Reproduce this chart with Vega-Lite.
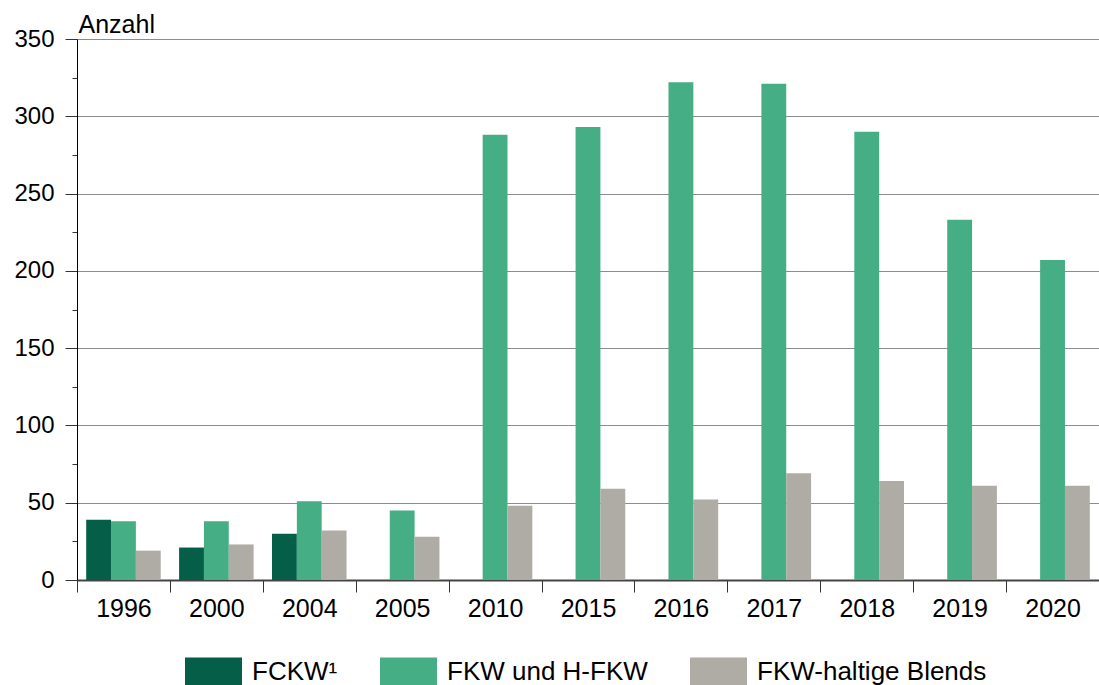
{
  "$schema": "https://vega.github.io/schema/vega-lite/v6.json",
  "width": 1022,
  "height": 541,
  "autosize": {"type": "none"},
  "padding": {"left": 77, "top": 39, "right": 0, "bottom": 105},
  "background": "white",
  "config": {
    "view": {"stroke": null},
    "font": "Liberation Sans",
    "axis": {"labelFont": "Liberation Sans", "titleFont": "Liberation Sans", "labelColor": "black", "titleColor": "black"},
    "legend": {"labelFont": "Liberation Sans"}
  },
  "data": {
    "values": [
      {"Jahr": "1996", "Stoff": "FCKW¹", "Anzahl": 39},
      {"Jahr": "1996", "Stoff": "FKW und H-FKW", "Anzahl": 38},
      {"Jahr": "1996", "Stoff": "FKW-haltige Blends", "Anzahl": 19},
      {"Jahr": "2000", "Stoff": "FCKW¹", "Anzahl": 21},
      {"Jahr": "2000", "Stoff": "FKW und H-FKW", "Anzahl": 38},
      {"Jahr": "2000", "Stoff": "FKW-haltige Blends", "Anzahl": 23},
      {"Jahr": "2004", "Stoff": "FCKW¹", "Anzahl": 30},
      {"Jahr": "2004", "Stoff": "FKW und H-FKW", "Anzahl": 51},
      {"Jahr": "2004", "Stoff": "FKW-haltige Blends", "Anzahl": 32},
      {"Jahr": "2005", "Stoff": "FKW und H-FKW", "Anzahl": 45},
      {"Jahr": "2005", "Stoff": "FKW-haltige Blends", "Anzahl": 28},
      {"Jahr": "2010", "Stoff": "FKW und H-FKW", "Anzahl": 288},
      {"Jahr": "2010", "Stoff": "FKW-haltige Blends", "Anzahl": 48},
      {"Jahr": "2015", "Stoff": "FKW und H-FKW", "Anzahl": 293},
      {"Jahr": "2015", "Stoff": "FKW-haltige Blends", "Anzahl": 59},
      {"Jahr": "2016", "Stoff": "FKW und H-FKW", "Anzahl": 322},
      {"Jahr": "2016", "Stoff": "FKW-haltige Blends", "Anzahl": 52},
      {"Jahr": "2017", "Stoff": "FKW und H-FKW", "Anzahl": 321},
      {"Jahr": "2017", "Stoff": "FKW-haltige Blends", "Anzahl": 69},
      {"Jahr": "2018", "Stoff": "FKW und H-FKW", "Anzahl": 290},
      {"Jahr": "2018", "Stoff": "FKW-haltige Blends", "Anzahl": 64},
      {"Jahr": "2019", "Stoff": "FKW und H-FKW", "Anzahl": 233},
      {"Jahr": "2019", "Stoff": "FKW-haltige Blends", "Anzahl": 61},
      {"Jahr": "2020", "Stoff": "FKW und H-FKW", "Anzahl": 207},
      {"Jahr": "2020", "Stoff": "FKW-haltige Blends", "Anzahl": 61}
    ]
  },
  "mark": {"type": "bar"},
  "encoding": {
    "x": {
      "field": "Jahr",
      "type": "nominal",
      "scale": {"paddingInner": 0, "paddingOuter": 0},
      "axis": {
        "title": null,
        "labelAngle": 0,
        "labelFontSize": 25,
        "labelPadding": 4,
        "tickBand": "extent",
        "tickSize": 12,
        "tickColor": "#333333",
        "domainColor": "#444444",
        "domainWidth": 2,
        "grid": false
      }
    },
    "xOffset": {
      "field": "Stoff",
      "type": "nominal",
      "sort": ["FCKW¹", "FKW und H-FKW", "FKW-haltige Blends"],
      "scale": {"paddingInner": 0, "paddingOuter": 0.37}
    },
    "y": {
      "field": "Anzahl",
      "type": "quantitative",
      "scale": {"domain": [0, 350], "nice": false},
      "axis": {
        "title": "Anzahl",
        "titleAngle": 0,
        "titleAlign": "left",
        "titleBaseline": "alphabetic",
        "titleX": 1,
        "titleY": -7,
        "titleFontSize": 25,
        "titleFontWeight": "normal",
        "values": [0, 25, 50, 75, 100, 125, 150, 175, 200, 225, 250, 275, 300, 325, 350],
        "labelExpr": "datum.value % 50 === 0 ? datum.label : ''",
        "labelFontSize": 24,
        "labelPadding": 11,
        "tickSize": {"condition": {"test": "datum.value % 50 === 0", "value": 12}, "value": 5},
        "tickColor": "#333333",
        "domainColor": "black",
        "domainWidth": 1,
        "grid": true,
        "gridColor": "#8c8c8c",
        "gridOpacity": {"condition": {"test": "datum.value % 50 === 0", "value": 1}, "value": 0}
      }
    },
    "color": {
      "field": "Stoff",
      "type": "nominal",
      "scale": {
        "domain": ["FCKW¹", "FKW und H-FKW", "FKW-haltige Blends"],
        "range": ["#055e48", "#45ae85", "#afaca5"]
      },
      "legend": {
        "title": null,
        "orient": "none",
        "legendX": 108,
        "legendY": 604,
        "direction": "horizontal",
        "symbolType": "M-1,-0.5H1V0.5H-1Z",
        "symbolSize": 3249,
        "symbolStrokeWidth": 0,
        "labelFontSize": 26,
        "labelLimit": 400,
        "labelOffset": 10,
        "columnPadding": 42,
        "labelColor": "black"
      }
    }
  }
}
